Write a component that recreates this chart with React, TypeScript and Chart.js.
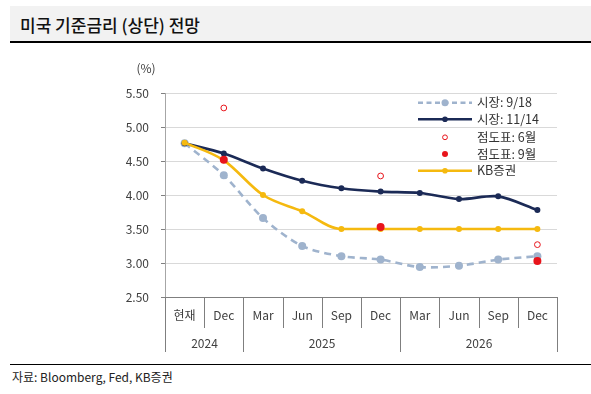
import React, { useEffect, useRef } from "react";
import { Chart, registerables } from "chart.js";

Chart.register(...registerables);

const FONT = '"Noto Sans CJK KR", "Noto Sans", sans-serif';

const categories = ["현재", "Dec", "Mar", "Jun", "Sep", "Dec", "Mar", "Jun", "Sep", "Dec"];
const yearLabels = ["2024", "2025", "2026"];
const yearStarts = [0, 2, 6];
const yearEnds = [2, 6, 10];

const market0918 = [4.76, 4.29, 3.66, 3.25, 3.1, 3.05, 2.94, 2.96, 3.05, 3.1];
const market1114 = [4.76, 4.61, 4.39, 4.21, 4.1, 4.05, 4.03, 3.94, 3.98, 3.78];
const kbForecast = [4.77, 4.51, 4.0, 3.76, 3.5, 3.5, 3.5, 3.5, 3.5, 3.5];
const dotJune = [null, 5.28, null, null, null, 4.28, null, null, null, 3.27];
const dotSept = [null, 4.52, null, null, null, 3.53, null, null, null, 3.03];

const NAVY = "#1b2a56";
const DASH = "#9fb3cd";
const GOLD = "#f5b90f";
const RED = "#e8141b";

const legendItems = [
  { text: "시장: 9/18", kind: "dash", color: DASH },
  { text: "시장: 11/14", kind: "line", color: NAVY },
  { text: "점도표: 6월", kind: "hollow", color: RED },
  { text: "점도표: 9월", kind: "dot", color: RED },
  { text: "KB증권", kind: "line", color: GOLD },
];

const decorPlugin = {
  id: "decor",
  afterDraw(chart: any) {
    const ctx = chart.ctx;
    const area = chart.chartArea;
    const n = categories.length;
    const step = (area.right - area.left) / n;
    const bx = (i: number) => Math.round(area.left + i * step) + 0.5;
    ctx.save();
    ctx.strokeStyle = "#7f7f7f";
    ctx.lineWidth = 1;
    for (let i = 0; i <= n; i++) {
      const isYear = yearStarts.includes(i) || i === n;
      ctx.beginPath();
      ctx.moveTo(bx(i), area.bottom);
      ctx.lineTo(bx(i), area.bottom + (isYear ? 55 : 31));
      ctx.stroke();
    }
    ctx.fillStyle = "#404040";
    ctx.font = `12px ${FONT}`;
    ctx.textAlign = "center";
    ctx.textBaseline = "middle";
    yearLabels.forEach((lab, k) => {
      const cx = (bx(yearStarts[k]) + bx(yearEnds[k])) / 2;
      ctx.fillText(lab, cx, area.bottom + 46);
    });
    ctx.fillText("(%)", 146, 18);

    const rows = [52.7, 69.3, 87.3, 104, 120.7];
    const lx1 = 418, lx2 = 472, mx = 445, tx = 477;
    legendItems.forEach((it, k) => {
      const y = rows[k];
      ctx.save();
      if (it.kind === "dash" || it.kind === "line") {
        ctx.strokeStyle = it.color;
        ctx.lineWidth = 2.5;
        ctx.setLineDash(it.kind === "dash" ? [5, 3.5] : []);
        ctx.beginPath();
        ctx.moveTo(lx1, y);
        ctx.lineTo(lx2, y);
        ctx.stroke();
        ctx.setLineDash([]);
        ctx.fillStyle = it.color;
        ctx.beginPath();
        ctx.arc(mx, y, it.kind === "dash" ? 3.5 : 2.8, 0, Math.PI * 2);
        ctx.fill();
      } else if (it.kind === "hollow") {
        ctx.strokeStyle = it.color;
        ctx.fillStyle = "#fff";
        ctx.lineWidth = 1;
        ctx.beginPath();
        ctx.arc(mx, y, 2.4, 0, Math.PI * 2);
        ctx.fill();
        ctx.stroke();
      } else {
        ctx.fillStyle = it.color;
        ctx.beginPath();
        ctx.arc(mx, y, 3, 0, Math.PI * 2);
        ctx.fill();
      }
      ctx.restore();
      ctx.fillStyle = "#333";
      ctx.font = `12.5px ${FONT}`;
      ctx.textAlign = "left";
      ctx.textBaseline = "middle";
      ctx.fillText(it.text, tx, y);
    });
    ctx.restore();
  },
};

export default function App() {
  const ref = useRef<HTMLCanvasElement | null>(null);
  useEffect(() => {
    if (!ref.current) return;
    const chart = new Chart(ref.current, {
      type: "line",
      data: {
        labels: categories,
        datasets: [
          {
            label: "점도표: 9월",
            data: dotSept,
            showLine: false,
            pointRadius: 4,
            pointBackgroundColor: RED,
            pointBorderColor: RED,
            pointBorderWidth: 0,
          },
          {
            label: "점도표: 6월",
            data: dotJune,
            showLine: false,
            pointRadius: 2.9,
            pointBackgroundColor: "#fff",
            pointBorderColor: RED,
            pointBorderWidth: 1,
          },
          {
            label: "KB증권",
            data: kbForecast,
            borderColor: GOLD,
            backgroundColor: GOLD,
            borderWidth: 2.6,
            pointRadius: 3,
            pointBackgroundColor: GOLD,
            pointBorderWidth: 0,
            cubicInterpolationMode: "monotone",
          },
          {
            label: "시장: 11/14",
            data: market1114,
            borderColor: NAVY,
            backgroundColor: NAVY,
            borderWidth: 2.6,
            pointRadius: 3,
            pointBackgroundColor: NAVY,
            pointBorderWidth: 0,
            tension: 0.3,
          },
          {
            label: "시장: 9/18",
            data: market0918,
            borderColor: DASH,
            backgroundColor: DASH,
            borderWidth: 2.6,
            borderDash: [7, 5],
            pointRadius: 4,
            pointBackgroundColor: DASH,
            pointBorderWidth: 0,
            tension: 0.3,
          },
        ],
      },
      options: {
        responsive: false,
        animation: false,
        devicePixelRatio: 1,
        layout: { padding: { left: 0, right: 34, top: 43, bottom: 0 } },
        plugins: { legend: { display: false }, tooltip: { enabled: false } },
        scales: {
          x: {
            type: "category",
            offset: true,
            grid: { display: false, drawTicks: false },
            border: { display: true, color: "#7f7f7f", width: 1 },
            ticks: {
              padding: 11,
              color: "#404040",
              font: { family: FONT, size: 12 },
              maxRotation: 0,
              autoSkip: false,
            },
            afterFit(scale: any) {
              scale.height = 63;
            },
          },
          y: {
            min: 2.5,
            max: 5.5,
            ticks: {
              stepSize: 0.25,
              padding: 12,
              color: "#404040",
              font: { family: FONT, size: 12 },
              callback: (v: any) => (Math.abs(v * 2 - Math.round(v * 2)) < 1e-6 ? Number(v).toFixed(2) : ""),
            },
            grid: {
              color: (c: any) => (c.tick && Math.abs(c.tick.value - 2.5) < 1e-6 ? "rgba(0,0,0,0)" : "#d9d9d9"),
              tickColor: (c: any) => (c.index % 2 === 0 ? "#808080" : "rgba(0,0,0,0)"),
              tickLength: 4,
              lineWidth: 1,
            },
            border: { display: true, color: "#a6a6a6", width: 1 },
            afterFit(scale: any) {
              scale.width = 165;
            },
          },
        },
      },
      plugins: [decorPlugin],
    } as any);
    return () => chart.destroy();
  }, []);

  return (
    <div
      style={{
        position: "fixed",
        left: 0,
        top: 0,
        width: 591,
        height: 394,
        background: "#fff",
        fontFamily: FONT,
        overflow: "hidden",
      }}
    >
      <div
        style={{
          position: "absolute",
          left: 10,
          top: 6,
          width: 581,
          height: 35,
          background: "#f2f2f2",
          borderBottom: "2px solid #000",
          boxSizing: "content-box",
        }}
      >
        <div style={{ paddingLeft: 10, lineHeight: "37px", fontSize: 17, fontWeight: 500, color: "#111" }}>
          미국 기준금리 (상단) 전망
        </div>
      </div>
      <div style={{ position: "absolute", left: 0, top: 50 }}>
        <canvas ref={ref} width={591} height={310} />
      </div>
      <div style={{ position: "absolute", left: 10, top: 364, width: 581, borderTop: "1.5px solid #000" }} />
      <div style={{ position: "absolute", left: 12, top: 369, fontSize: 12, color: "#222", lineHeight: "16px" }}>
        자료: Bloomberg, Fed, KB증권
      </div>
    </div>
  );
}
